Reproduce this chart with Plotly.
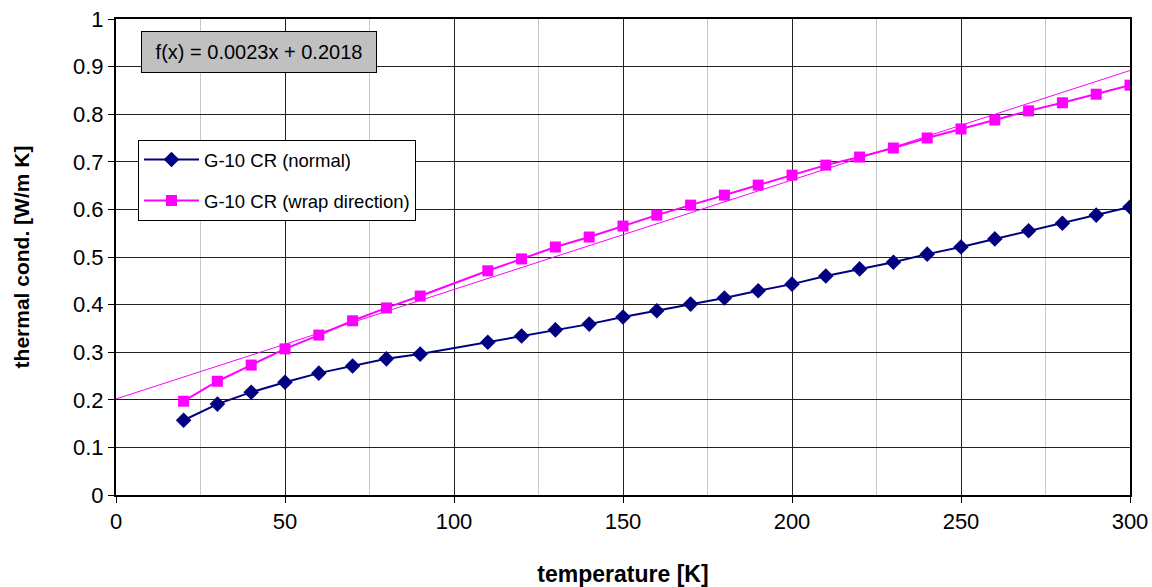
import plotly.graph_objects as go

temp = [20, 30, 40, 50, 60, 70, 80, 90, 110, 120, 130, 140, 150, 160, 170, 180,
        190, 200, 210, 220, 230, 240, 250, 260, 270, 280, 290, 300]
k_normal = [0.157, 0.191, 0.216, 0.237, 0.256, 0.271, 0.286, 0.296, 0.321, 0.334,
            0.347, 0.359, 0.374, 0.387, 0.401, 0.414, 0.429, 0.443, 0.460, 0.475,
            0.489, 0.506, 0.521, 0.538, 0.555, 0.571, 0.588, 0.605]
k_wrap = [0.197, 0.239, 0.273, 0.307, 0.336, 0.366, 0.393, 0.418, 0.471, 0.496,
          0.521, 0.542, 0.565, 0.588, 0.609, 0.630, 0.651, 0.672, 0.693, 0.710,
          0.729, 0.750, 0.769, 0.788, 0.807, 0.824, 0.842, 0.861]
trend_slope = 0.0023
trend_intercept = 0.2018
trend_x = [0, 300]
trend_y = [trend_slope * x + trend_intercept for x in trend_x]

font_family = "Liberation Sans, Arial, sans-serif"

fig = go.Figure()
fig.add_trace(go.Scatter(x=trend_x, y=trend_y, mode="lines",
                         line=dict(color="#FF00FF", width=1), showlegend=False,
                         hoverinfo="skip"))
fig.add_trace(go.Scatter(x=temp, y=k_normal, mode="lines+markers", name="G-10 CR (normal)",
                         legendgroup="a",
                         line=dict(color="#000080", width=2),
                         marker=dict(symbol="diamond", size=12, color="#000080")))
fig.add_trace(go.Scatter(x=temp, y=k_wrap, mode="lines+markers", name="G-10 CR (wrap direction)",
                         legendgroup="b",
                         line=dict(color="#FF00FF", width=2),
                         marker=dict(symbol="square", size=11, color="#FF00FF")))

fig.update_layout(
    width=1152, height=587,
    margin=dict(l=116, r=22, t=19, b=92, autoexpand=False),
    plot_bgcolor="white", paper_bgcolor="white",
    font=dict(family=font_family, size=18, color="black"),
    showlegend=True,
    legend=dict(x=0.0217, y=0.746, xanchor="left", yanchor="top",
                bgcolor="white", bordercolor="black", borderwidth=1,
                font=dict(size=18.5, family=font_family), tracegroupgap=14,
                traceorder="grouped", itemwidth=55),
    xaxis=dict(range=[0, 300], dtick=50, tick0=0, showgrid=True, gridcolor="#202020",
               gridwidth=1, ticks="outside", ticklen=6, tickcolor="black",
               showline=True, linecolor="black", linewidth=2, mirror=True,
               automargin=False,
               minor=dict(dtick=25, tick0=0, showgrid=True, gridcolor="#c8c8c8", gridwidth=1),
               title=dict(text="<b>temperature [K]</b>", font=dict(size=23), standoff=34),
               zeroline=False, tickfont=dict(size=22)),
    yaxis=dict(range=[0, 1], dtick=0.1, tick0=0, showgrid=True, gridcolor="#202020",
               gridwidth=1, ticks="outside", ticklen=6, tickcolor="black",
               showline=True, linecolor="black", linewidth=2, mirror=True,
               automargin=False,
               title=dict(text="<b>thermal cond. [W/m K]</b>", font=dict(size=21), standoff=38),
               zeroline=False, tickfont=dict(size=22)),
    annotations=[dict(x=42.3, y=0.9307, xref="x", yref="y", showarrow=False,
                      text="f(x) = 0.0023x + 0.2018", font=dict(size=20),
                      bgcolor="#C0C0C0", bordercolor="black", borderwidth=1,
                      borderpad=6, width=222, height=28)],
)

fig.write_html("out.html")
